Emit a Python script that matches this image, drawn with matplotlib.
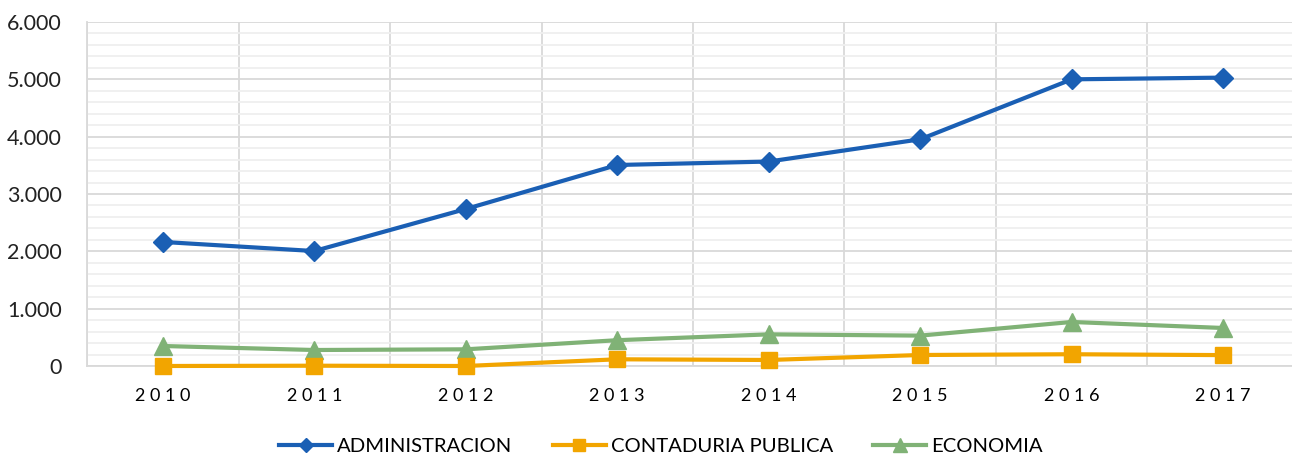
import matplotlib
matplotlib.use('Agg')
import matplotlib.pyplot as plt
from matplotlib.ticker import MultipleLocator, FuncFormatter, FixedLocator

# datos
years = [2010, 2011, 2012, 2013, 2014, 2015, 2016, 2017]
administracion = [2164, 2005, 2738, 3506, 3566, 3954, 5000, 5030]
contaduria = [0, 5, 0, 117, 105, 192, 205, 190]
economia = [349, 279, 291, 450, 552, 530, 768, 663]
series_names = ["ADMINISTRACION", "CONTADURIA PUBLICA", "ECONOMIA"]

plt.rcParams['font.family'] = ['Lato', 'DejaVu Sans']

W, H = 1292, 454
fig = plt.figure(figsize=(W / 100, H / 100), dpi=100)
# el area de trazado se sale un poco por la derecha, como en el original
left, right, top, bottom = 87, 1299, 22, 366
ax = fig.add_axes([left / W, 1 - bottom / H, (right - left) / W, (bottom - top) / H])

x = list(range(len(years)))
ax.plot(x, administracion, color='#1a5fb4', lw=3, marker='D', ms=10,
        label=series_names[0], zorder=5, clip_on=False)
ax.plot(x, contaduria, color='#f2a500', lw=3, marker='s', ms=12,
        label=series_names[1], zorder=4, clip_on=False)
ax.plot(x, economia, color='#80b276', lw=3, marker='^', ms=13,
        label=series_names[2], zorder=3, clip_on=False)

ax.set_xlim(-0.5, len(years) - 0.5)
ax.set_ylim(0, 6000)
ax.yaxis.set_major_locator(MultipleLocator(1000))
ax.yaxis.set_minor_locator(MultipleLocator(200))
ax.yaxis.set_major_formatter(FuncFormatter(lambda v, p: f"{int(v):,}".replace(",", ".")))
ax.set_xticks(x)
ax.set_xticklabels([" ".join(str(y)) for y in years], fontsize=13)
ax.xaxis.set_minor_locator(FixedLocator([i - 0.5 for i in range(len(years) + 1)]))

ax.grid(which='major', axis='y', color='#d9d9d9', lw=1.3)
ax.grid(which='minor', axis='y', color='#efefef', lw=1.3)
ax.grid(which='minor', axis='x', color='#d9d9d9', lw=1.3)
ax.set_axisbelow(True)

ax.tick_params(axis='both', which='both', length=0)
ax.tick_params(axis='y', labelsize=15.5, pad=18)
ax.tick_params(axis='x', pad=16)
for lab in ax.get_yticklabels():
    lab.set_color('#222222')

for s in ['top', 'right']:
    ax.spines[s].set_visible(False)
for s in ['left', 'bottom']:
    ax.spines[s].set_color('#d9d9d9')
    ax.spines[s].set_linewidth(1.3)

leg = fig.legend(loc='center', bbox_to_anchor=(661 / W, 1 - 446 / H), ncol=3,
                 frameon=False, fontsize=14.6, handlelength=2.6, handletextpad=0.25,
                 columnspacing=2.0, markerscale=0.75)

fig.savefig('out.png', dpi=100)
